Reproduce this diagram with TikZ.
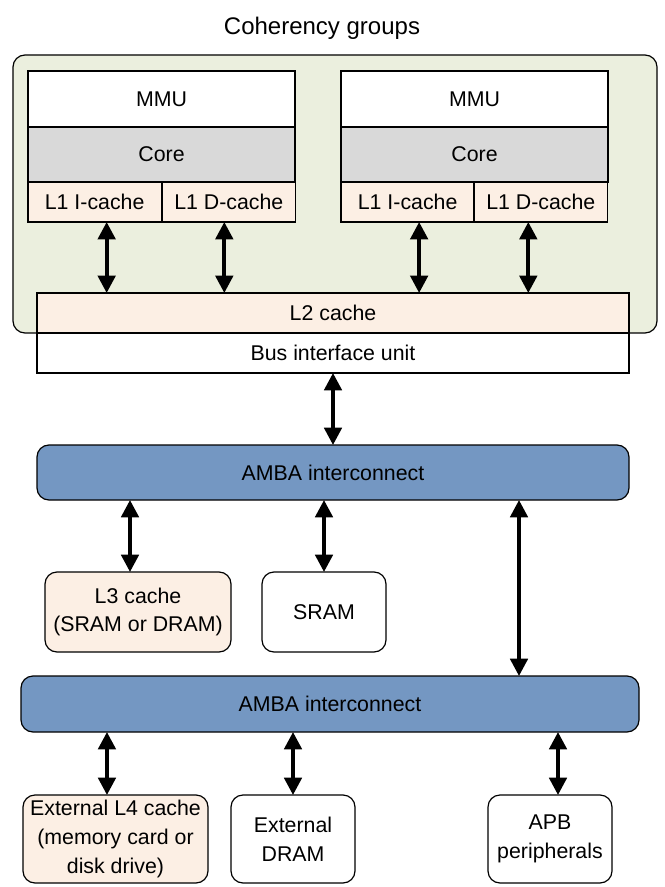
\documentclass[tikz,border=0pt]{standalone}
\usepackage{fontspec}
\setmainfont{Liberation Sans}
\usepackage{tikz}
\usetikzlibrary{arrows.meta, positioning}
\definecolor{verde}{RGB}{235, 239, 222}
\definecolor{melocoton}{RGB}{252, 239, 228}
\definecolor{gris}{RGB}{217, 217, 217}
\definecolor{azul}{RGB}{116, 151, 194}
\tikzset{
    blk/.style={draw, rectangle, anchor=north west, inner sep=0pt, outer sep=0pt, line width=0.9pt, font=\fontsize{16}{21.5}\selectfont, align=center},
    mmu/.style={blk, fill=white, minimum width=200.25pt, minimum height=42pt},
    core/.style={blk, fill=gris, minimum width=200.25pt, minimum height=41.25pt},
    lone/.style={blk, fill=melocoton, minimum width=100pt, minimum height=30pt},
    wide/.style={blk, minimum width=444pt, minimum height=30pt},
    bus/.style={blk, fill=azul, rounded corners=9pt},
    mem/.style={blk, rounded corners=9pt, minimum width=93pt},
    conn/.style={{Triangle[width=13pt,length=13pt]}-{Triangle[width=13pt,length=13pt]}, line width=2.8pt},
}
\begin{document}
\begin{tikzpicture}[x=0.75pt, y=-0.75pt]
        \useasboundingbox (0,0) rectangle (664,887);

        % coherency group
        \node[blk, fill=verde, rounded corners=9pt, minimum width=483pt, minimum height=208.5pt] (grp) at (13,55) {};
        \node[font=\fontsize{18}{22}\selectfont] (title) at (322,28.5) {Coherency groups};

        \node[mmu] (mmuA) at (28,71) {MMU};
        \node[core] (coreA) at (28,127) {Core};
        \node[lone] (liA) at (28,182) {L1 I-cache};
        \node[lone, minimum width=100.25pt] (ldA) at (162,182) {L1 D-cache};

        \node[mmu] (mmuB) at (341,71) {MMU};
        \node[core] (coreB) at (341,127) {Core};
        \node[lone] (liB) at (341,182) {L1 I-cache};
        \node[lone, minimum width=100.25pt] (ldB) at (474,182) {L1 D-cache};

        \node[wide, fill=melocoton] (l2) at (37,293) {L2 cache};
        \node[wide, fill=white] (biu) at (37,333) {Bus interface unit};

        % interconnects
        \node[bus, minimum width=444pt, minimum height=41.25pt] (ambaA) at (37,445) {AMBA interconnect};
        \node[bus, minimum width=463.5pt, minimum height=42pt] (ambaB) at (21,676) {AMBA interconnect};

        \node[mem, fill=melocoton, minimum width=139.5pt, minimum height=60pt] (lthree) at (45,572) {L3 cache\\(SRAM or DRAM)};
        \node[mem, fill=white, minimum height=60pt] (sram) at (262,572) {SRAM};

        \node[mem, fill=melocoton, minimum width=138.75pt, minimum height=66pt] (lfour) at (23,795) {External L4 cache\\(memory card or\\disk drive)};
        \node[mem, fill=white, minimum height=66pt] (dram) at (231,795) {External\\DRAM};
        \node[mem, fill=white, minimum height=66pt] (apb) at (488,795) {APB\\peripherals};

        \draw[conn] ([xshift=9pt]liA.south) -- ([xshift=9pt]liA.south |- l2.north);
        \draw[conn] ([xshift=-3.4pt]ldA.south) -- ([xshift=-3.4pt]ldA.south |- l2.north);
        \draw[conn] ([xshift=8.6pt]liB.south) -- ([xshift=8.6pt]liB.south |- l2.north);
        \draw[conn] ([xshift=-9.4pt]ldB.south) -- ([xshift=-9.4pt]ldB.south |- l2.north);

        \draw[conn] (biu.south) -- (ambaA.north);

        \draw[conn] ([xshift=-6pt]lthree.north |- ambaA.south) -- ([xshift=-6pt]lthree.north);
        \draw[conn] (sram.north |- ambaA.south) -- (sram.north);
        \draw[conn] ([xshift=139.5pt]ambaA.south) -- ([xshift=139.5pt]ambaA.south |- ambaB.north);

        \draw[conn] ([xshift=-6.4pt]lfour.north |- ambaB.south) -- ([xshift=-6.4pt]lfour.north);
        \draw[conn] (dram.north |- ambaB.south) -- (dram.north);
        \draw[conn] ([xshift=6pt]apb.north |- ambaB.south) -- ([xshift=6pt]apb.north);
\end{tikzpicture}
\end{document}
